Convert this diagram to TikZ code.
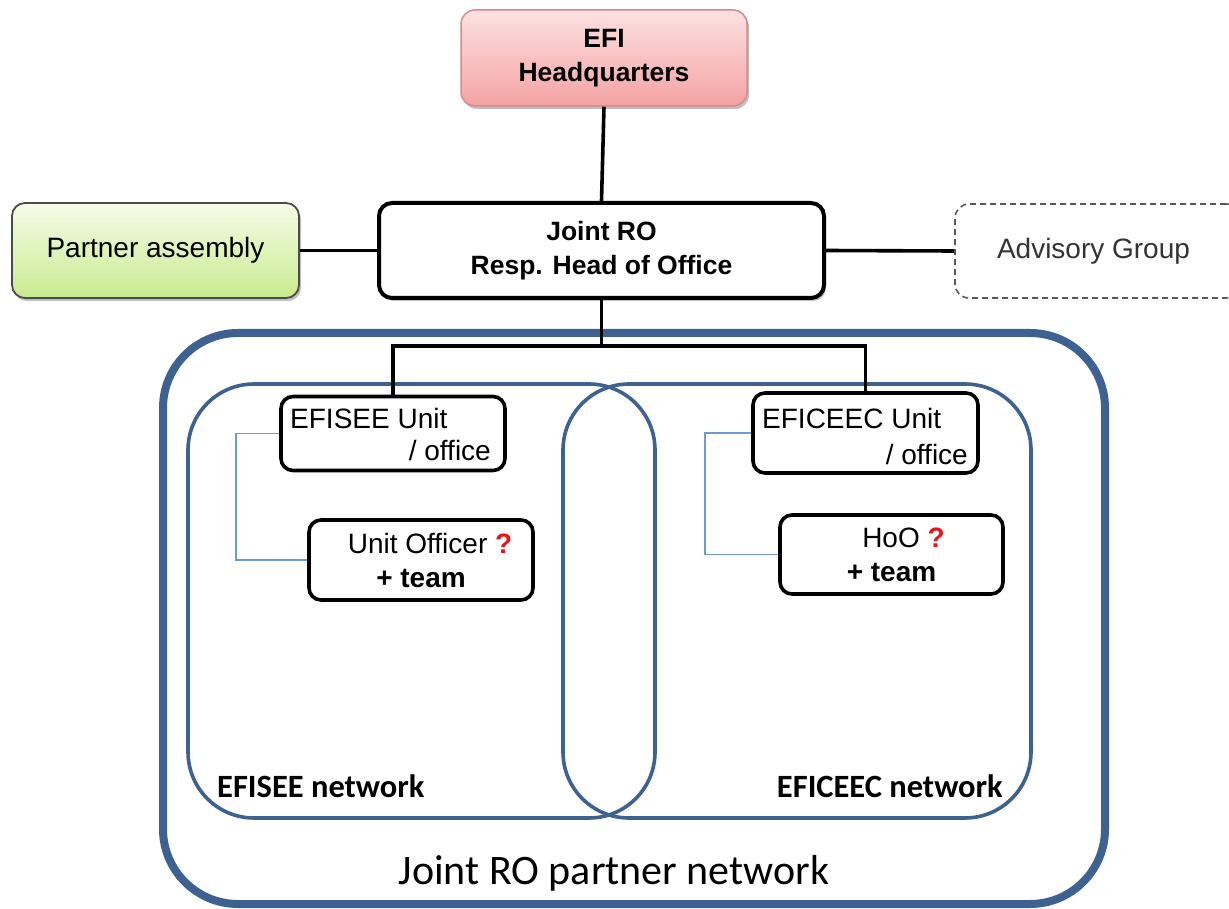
\documentclass[tikz,border=0pt]{standalone}
\usepackage{fontspec}
\setmainfont{Liberation Sans}
\newfontfamily\calfont{Carlito}
\usetikzlibrary{shadows}
\definecolor{netblue}{HTML}{3D6190}
\definecolor{lineblue}{HTML}{6E9AD0}
\definecolor{hqborder}{HTML}{D98A8A}
\definecolor{hqtop}{HTML}{FDE2E2}
\definecolor{hqbot}{HTML}{F4A2A2}
\definecolor{patop}{HTML}{F6FCE8}
\definecolor{pabot}{HTML}{C8EB8E}
\definecolor{qred}{HTML}{E8141A}
\begin{document}
\begin{tikzpicture}[x=1pt,y=1pt,
  txt/.style={font=\fontsize{28}{33}\selectfont},
  boldtxt/.style={font=\fontsize{26.5}{32}\selectfont\bfseries},
  shade/.style={drop shadow={shadow xshift=2pt,shadow yshift=-3pt,opacity=0.25,fill=black}},
  topbox/.style={draw=black,line width=4pt,rounded corners=13pt,fill=white,inner sep=0pt},
  smallbox/.style={draw=black,line width=3.6pt,rounded corners=12pt,fill=white,inner sep=0pt},
  conn/.style={draw=black,line width=3.6pt},
  bluecon/.style={draw=lineblue,line width=1.8pt},
  net/.style={draw=netblue,line width=3.6pt},
  netlabel/.style={font=\calfont\fontsize{32.5}{38}\selectfont\bfseries}
]
\useasboundingbox (0,0) rectangle (1229,-909);
\fill[white] (0,0) rectangle (1229,-909);

% outer network
\draw[draw=netblue,line width=8pt,rounded corners=75pt] (163,-333) rectangle (1105,-904);

% left network
\draw[net] (188,-452) -- (188,-752) arc[start angle=180,end angle=270,radius=66]
  -- (589,-818) arc[start angle=270,end angle=360,radius=66]
  -- (655,-450) arc[start angle=0,end angle=90,radius=66]
  -- (254,-384) arc[start angle=90,end angle=180,radius=66] -- cycle;
% right network
\draw[net] (563,-450) -- (563,-752) arc[start angle=180,end angle=270,radius=66]
  -- (965,-818) arc[start angle=270,end angle=360,radius=66]
  -- (1031,-450) arc[start angle=0,end angle=90,radius=66]
  -- (629,-384) arc[start angle=90,end angle=180,radius=66] -- cycle;

% top row
\node[draw=hqborder,line width=1.5pt,rounded corners=14pt,top color=hqtop,bottom color=hqbot,
  minimum width=286pt,minimum height=96pt,inner sep=0pt,align=center,boldtxt,shade]
  (hq) at (604,-58) {EFI\\[2pt]Headquarters};
\node[topbox,minimum width=445pt,minimum height=95pt,align=center,boldtxt,shade]
  (joint) at (601.5,-250.5) {Joint RO\\[2pt]Resp. Head of Office};
\node[draw=black!70,line width=1.8pt,rounded corners=13pt,top color=patop,bottom color=pabot,
  minimum width=287pt,minimum height=95pt,inner sep=0pt,txt,shade]
  (partner) at (155.5,-250.5) {Partner assembly};
\node[draw=black!65,line width=1.6pt,dashed,dash pattern=on 6pt off 4pt,rounded corners=14pt,
  minimum width=285pt,minimum height=94pt,inner sep=0pt,txt,text=black!80]
  (adv) at (1097.5,-251) {\hspace*{-4pt}Advisory Group\hspace*{4pt}};

% connectors top
\draw[conn] (hq.south) -- (joint.north);
\draw[conn] (partner.east) -- (joint.west);
\draw[conn] (joint.east) -- (adv.west);
\coordinate (bus) at (601.5,-346);

% unit boxes
\node[smallbox,minimum width=224pt,minimum height=74pt] (efisee) at (393,-433.5) {};
\node[txt,anchor=base west,inner sep=0pt] (efiseeA) at (290,-428) {EFISEE Unit};
\node[txt,anchor=base east,inner sep=0pt] (efiseeB) at (491,-460) {/ office};

\node[smallbox,minimum width=224pt,minimum height=80pt,align=center,txt] (unitoff) at (421,-560)
  {\hspace*{18pt}Unit Officer {\color{qred}\bfseries ?}\\[1pt]{\bfseries + team}};

\node[smallbox,minimum width=225pt,minimum height=80pt] (eficeec) at (865.5,-433) {};
\node[txt,anchor=base west,inner sep=0pt] (eficeecA) at (762,-428) {EFICEEC Unit};
\node[txt,anchor=base east,inner sep=0pt] (eficeecB) at (968,-464) {/ office};

\node[smallbox,minimum width=223pt,minimum height=79pt,align=center,txt] (hoo) at (891.5,-554.5)
  {\hspace*{24pt}HoO {\color{qred}\bfseries ?}\\[1pt]{\bfseries + team}};

% bus connectors
\draw[conn] (joint.south) -- (bus);
\draw[conn,line cap=rect] (efisee.north) |- (bus) -| (eficeec.north);

% blue connectors
\draw[bluecon] (efisee.west) -- ++(-43,0) |- (unitoff.west);
\draw[bluecon] (eficeec.west) -- ++(-46,0) |- (hoo.west);

% labels
\node[netlabel,anchor=base west,inner sep=0pt] (lblA) at (217,-797) {EFISEE network};
\node[netlabel,anchor=base east,inner sep=0pt] (lblB) at (1003,-797) {EFICEEC network};
\node[font=\calfont\fontsize{42}{48}\selectfont,anchor=base,inner sep=0pt] (lblC) at (614,-884) {Joint RO partner network};
\end{tikzpicture}
\end{document}
